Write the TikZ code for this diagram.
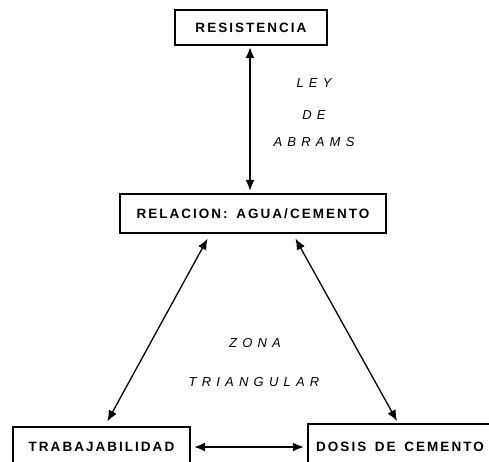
\documentclass[tikz,border=0pt]{standalone}
\usepackage{fontspec}
\usetikzlibrary{arrows.meta}
\newfontfamily\boxfont[LetterSpace=15,WordSpace=1.5]{Liberation Sans}
\newfontfamily\lblfont[LetterSpace=40]{Liberation Sans}
\begin{document}
\begin{tikzpicture}[x=1pt, y=-1pt,
  caja/.style={draw, line width=2.4pt, inner sep=0pt, font=\boxfont\bfseries\fontsize{13.5}{15}\selectfont},
  rotulo/.style={font=\lblfont\itshape\fontsize{13}{15}\selectfont},
  flecha/.style={{Latex[length=11pt,width=9pt]}-{Latex[length=11pt,width=9pt]}, line width=1.3pt}]
  \useasboundingbox (0,0) rectangle (489,461);
  \clip (0,0) rectangle (489,461);
  \node[caja, minimum width=152, minimum height=35] (res) at (251,27.5) {RESISTENCIA};
  \node[caja, minimum width=266, minimum height=39] (rel) at (253,213.5) {RELACION: AGUA/CEMENTO};
  \node[caja, minimum width=177, minimum height=40] (trab) at (101.5,447) {TRABAJABILIDAD};
  \node[caja, minimum width=184, minimum height=46] (dosis) at (400,447) {DOSIS DE CEMENTO};
  % etiquetas
  \node[rotulo] (ley) at (314,83) {LEY};
  \node[rotulo] (de) at (314,115) {DE};
  \node[rotulo] (abrams) at (314,142) {ABRAMS};
  \node[rotulo] (zona) at (255,343) {ZONA};
  \node[rotulo] (triang) at (254,382) {TRIANGULAR};
  % flechas
  \draw[flecha, shorten <=1pt, shorten >=2pt] ([xshift=-1pt]res.south) -- ([xshift=-1pt]res.south |- rel.north);
  \draw[flecha, shorten <=5pt, shorten >=5pt] ([xshift=-43pt]rel.south) -- ([xshift=3.5pt]trab.north);
  \draw[flecha, shorten <=5pt, shorten >=2pt] ([xshift=40pt]rel.south) -- ([xshift=-2pt]dosis.north);
  \draw[flecha, shorten <=3pt, shorten >=3pt] (trab.east) -- (trab.east -| dosis.west);
\end{tikzpicture}
\end{document}
